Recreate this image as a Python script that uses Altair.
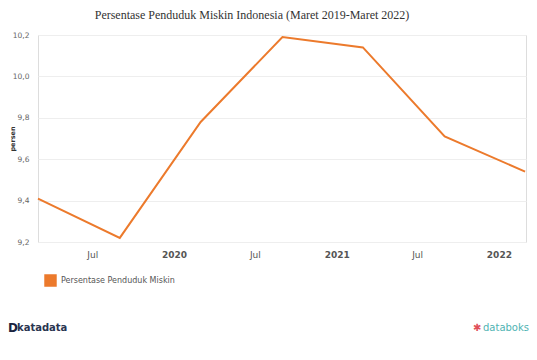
import altair as alt
import pandas as pd

periods = ["2019-03-01", "2019-09-01", "2020-03-01", "2020-09-01", "2021-03-01", "2021-09-01", "2022-03-01"]
values = [9.41, 9.22, 9.78, 10.19, 10.14, 9.71, 9.54]
series = ["Persentase Penduduk Miskin"] * len(periods)
y_ticks = [9.2, 9.4, 9.6, 9.8, 10.0, 10.2]
x_ticks = ["2019-07-01", "2020-01-01", "2020-07-01", "2021-01-01", "2021-07-01", "2022-01-01"]

df = pd.DataFrame({"periode": periods, "persen": values, "seri": series})

W, H = 488, 207
orange = "#EC7A2C"

x_enc = alt.X(
    "periode:T",
    scale=alt.Scale(domain=[periods[0], "2022-03-03"]),
    axis=alt.Axis(
        title=None,
        values=[alt.DateTime(year=int(d[:4]), month=int(d[5:7]), date=1) for d in x_ticks],
        labelExpr="month(datum.value) == 0 ? timeFormat(datum.value, '%Y') : 'Jul'",
        labelFontWeight=alt.condition("month(datum.value) == 0", alt.value("bold"), alt.value("normal")),
        labelColor="#555555",
        labelFontSize=9,
        labelFont="DejaVu Sans",
        labelPadding=8,
        domain=False,
        ticks=False,
        grid=False,
    ),
)
y_enc = alt.Y(
    "persen:Q",
    scale=alt.Scale(domain=[9.2, 10.2], nice=False, zero=False),
    axis=alt.Axis(
        title="persen",
        titleFontSize=6.5,
        titleFont="DejaVu Sans",
        titleFontWeight="bold",
        titleColor="#333333",
        titleAngle=270,
        titleX=-29,
        titleY=H / 2,
        titleAlign="center",
        titleBaseline="top",
        values=y_ticks,
        labelExpr="replace(format(datum.value, '.1f'), '.', ',')",
        labelColor="#666666",
        labelFontSize=7.5,
        labelFont="DejaVu Sans",
        labelPadding=9,
        domain=False,
        ticks=False,
        gridColor="#eeeeee",
        gridWidth=1,
    ),
)

line = alt.Chart(df).mark_line(strokeWidth=2).encode(
    x=x_enc,
    y=y_enc,
    color=alt.Color(
        "seri:N",
        scale=alt.Scale(range=[orange]),
        legend=alt.Legend(
            title=None,
            orient="none",
            legendX=6,
            legendY=239,
            symbolType="square",
            symbolSize=120,
            symbolFillColor=orange,
            symbolStrokeColor=orange,
            labelFontSize=8,
            labelFont="DejaVu Sans",
            labelColor="#555555",
        ),
    ),
)

left_logo = alt.Chart(pd.DataFrame({"t": ["katadata"]})).mark_text(
    align="left", baseline="middle", fontSize=10, fontWeight="bold", font="DejaVu Sans", color="#2a3550"
).encode(x=alt.value(-21), y=alt.value(293), text="t:N")
d_logo = alt.Chart(pd.DataFrame({"t": ["D"]})).mark_text(
    align="left", baseline="middle", fontSize=12, fontWeight="bold", font="DejaVu Sans", color="#1a2340"
).encode(x=alt.value(-30), y=alt.value(293), text="t:N")
right_logo = alt.Chart(pd.DataFrame({"t": ["databoks"]})).mark_text(
    align="left", baseline="middle", fontSize=10, font="DejaVu Sans", color="#4fb3b3"
).encode(x=alt.value(445), y=alt.value(293), text="t:N")
star = alt.Chart(pd.DataFrame({"t": ["✱"]})).mark_text(
    align="left", baseline="middle", fontSize=10, color="#e0505a"
).encode(x=alt.value(435), y=alt.value(293), text="t:N")

chart = alt.layer(line, left_logo, d_logo, right_logo, star).properties(
    width=W,
    height=H,
    autosize=alt.AutoSizeParams(type="none"),
    padding={"left": 30, "top": 27, "right": 3, "bottom": 108},
    title=alt.TitleParams(
        "Persentase Penduduk Miskin Indonesia (Maret 2019-Maret 2022)",
        font="Liberation Serif",
        fontSize=12,
        fontWeight="normal",
        color="#333333",
        anchor="middle",
        dx=-30,
        offset=9,
    ),
).configure_view(stroke=None).configure(background="white")

chart.save("out.html", embed_options={"renderer": "svg", "actions": False})
